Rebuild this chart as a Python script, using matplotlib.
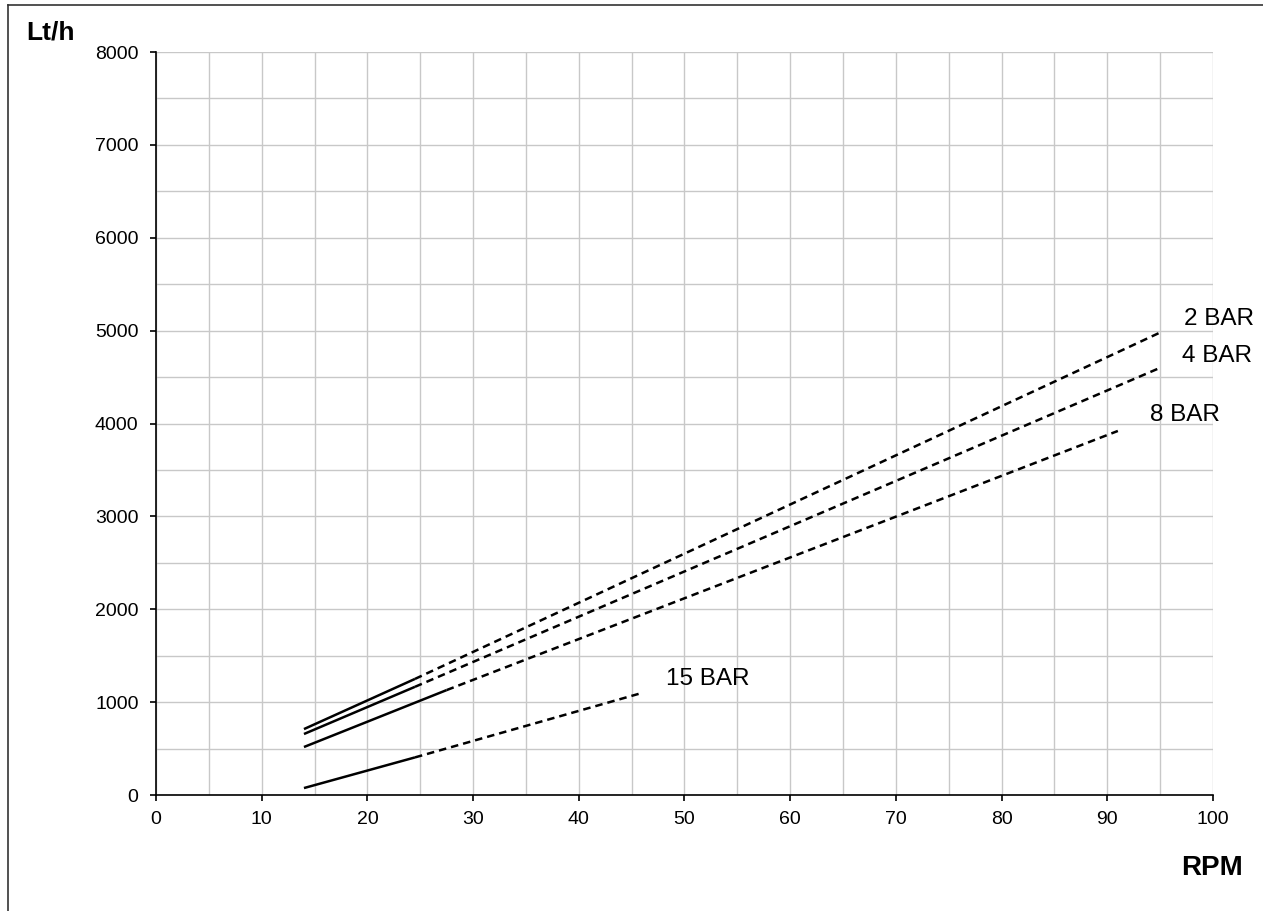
import numpy as np
import matplotlib.pyplot as plt
from matplotlib.lines import Line2D

plt.rcParams['font.family'] = ['Liberation Sans', 'DejaVu Sans']

# pressure curves: solid start -> knee, dashed knee -> end
SERIES = ["2 BAR", "4 BAR", "8 BAR", "15 BAR"]
RPM_START = [14, 14, 14, 14]
FLOW_START = [710, 657, 517, 75]
RPM_KNEE = [24.5, 24.5, 27.5, 24.5]
FLOW_KNEE = [1250, 1165, 1130, 405]
RPM_END = [95, 95, 91, 46]
FLOW_END = [4980, 4600, 3920, 1100]
LABEL_POS = [(100.6, 5124), (100.4, 4726), (97.35, 4090), (52.2, 1249)]

X_TICKS = list(range(0, 101, 10))
Y_TICKS = list(range(0, 8001, 1000))

fig = plt.figure(figsize=(12.63, 9.11), dpi=100)
ax = fig.add_axes([0.1235, 0.1273, 0.8369, 0.8156])

for i, name in enumerate(SERIES):
    ax.plot([RPM_START[i], RPM_KNEE[i]], [FLOW_START[i], FLOW_KNEE[i]],
            color='black', lw=1.8, solid_capstyle='butt')
    ax.plot([RPM_KNEE[i], RPM_END[i]], [FLOW_KNEE[i], FLOW_END[i]],
            color='black', lw=1.8, linestyle=(0, (3, 2)))
    ax.text(LABEL_POS[i][0], LABEL_POS[i][1], name, fontsize=17.5,
            ha='center', va='center', clip_on=False)

ax.set_xlim(0, 100)
ax.set_ylim(0, 8000)
ax.set_xticks(X_TICKS)
ax.set_yticks(Y_TICKS)
ax.set_xticks(np.arange(0, 101, 5), minor=True)
ax.set_yticks(np.arange(0, 8001, 500), minor=True)
ax.grid(which='both', color='#c8c8c8', lw=1)
ax.set_axisbelow(True)
ax.tick_params(which='minor', length=0)
ax.tick_params(which='major', direction='out', length=4.5, width=1.2,
               labelsize=14)
ax.tick_params(axis='y', pad=8)
ax.tick_params(axis='x', pad=7)
for s in ['top', 'right']:
    ax.spines[s].set_visible(False)
for s in ['left', 'bottom']:
    ax.spines[s].set_linewidth(1.2)

fig.text(0.0396, 0.964, "Lt/h", fontsize=19, fontweight='bold',
         ha='center', va='center')
fig.text(0.9596, 0.0472, "RPM", fontsize=20, fontweight='bold',
         ha='center', va='center')

# outer frame (left and top edges visible)
fig.add_artist(Line2D([8 / 1263, 8 / 1263], [0, 1 - 5 / 911],
                      color='#333333', lw=1.2, transform=fig.transFigure))
fig.add_artist(Line2D([8 / 1263, 1], [1 - 5 / 911, 1 - 5 / 911],
                      color='#333333', lw=1.2, transform=fig.transFigure))

fig.savefig("out.png", dpi=100)
